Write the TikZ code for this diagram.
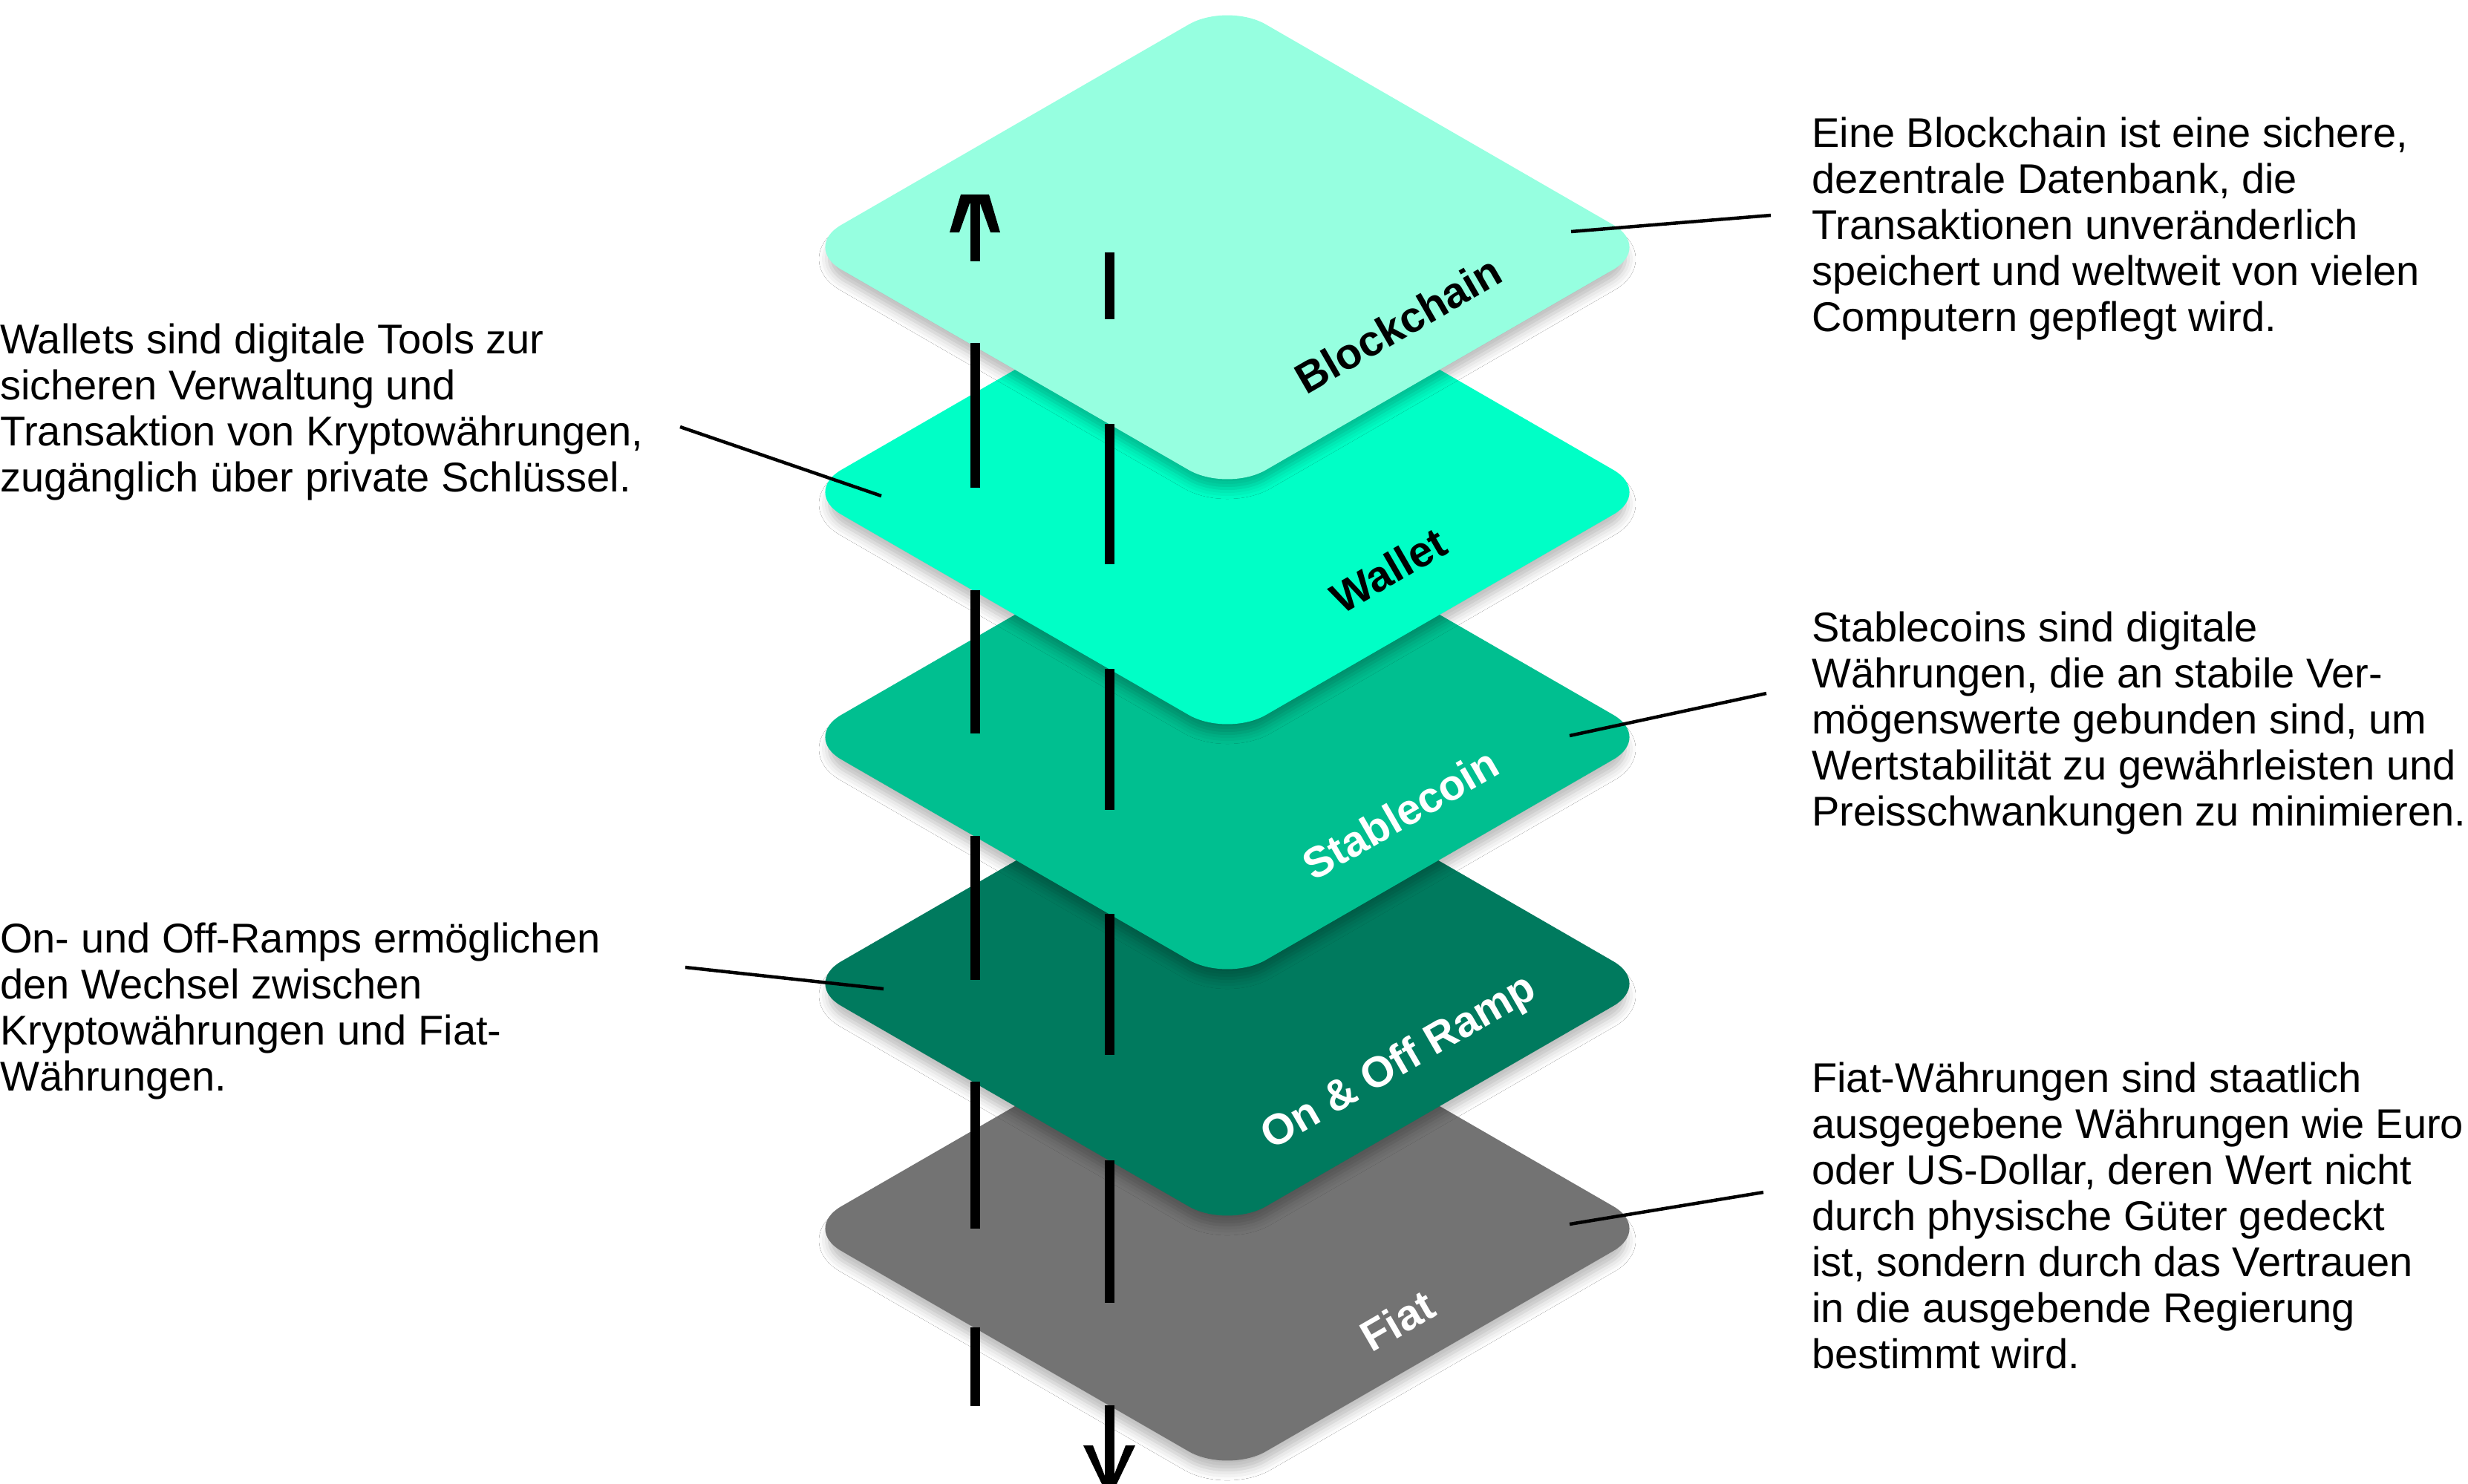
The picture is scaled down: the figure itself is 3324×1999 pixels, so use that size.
\documentclass[tikz,border=0pt]{standalone}
\usepackage{fontspec}
\setmainfont{Liberation Sans}
\usetikzlibrary{shadows.blur}
\definecolor{cBlock}{HTML}{96FFE0}
\definecolor{cWallet}{HTML}{00FFC6}
\definecolor{cStable}{HTML}{00BF90}
\definecolor{cRamp}{HTML}{007A5E}
\definecolor{cFiat}{HTML}{737373}
\newcommand{\layerat}[2]{%
  \path[layer,fill=#2] (1081,-#1) -- (1653,-#1+330) -- (2225,-#1) -- (1653,-#1-330) -- cycle;}
\begin{document}
\begin{tikzpicture}[x=1pt,y=1pt,
  layer/.style={rounded corners=60pt,
    blur shadow={shadow xshift=0pt, shadow yshift=-16pt, shadow blur radius=14pt, shadow opacity=28, shadow scale=0.99}},
  lbl/.style={font=\fontsize{58}{60}\selectfont\bfseries, rotate=30, inner sep=0pt},
  desc/.style={font=\fontsize{56}{62}\selectfont, align=left, anchor=north west, inner sep=0pt},
  leader/.style={line width=4.5pt},
  bar/.style={line width=13pt},
  head/.style={fill=black}]
\useasboundingbox (0,0) rectangle (3324,-1999);
\fill[white] (0,0) rectangle (3324,-1999);

% layers, bottom to top
\layerat{1655}{cFiat}
\layerat{1325}{cRamp}
\layerat{993}{cStable}
\layerat{663}{cWallet}
\layerat{333}{cBlock}

% layer labels
\node[lbl, text=black] (lblBlock)  at (1883,-437)  {Blockchain};
\node[lbl, text=black] (lblWallet) at (1870,-768)  {Wallet};
\node[lbl, text=white] (lblStable) at (1886,-1096) {Stablecoin};
\node[lbl, text=white] (lblRamp)   at (1885,-1433) {On \& Off Ramp};
\node[lbl, text=white] (lblFiat)   at (1882,-1779) {Fiat};

% up line (left)
\fill[head] (1294,-262) -- (1332,-262) -- (1347,-313) -- (1334,-313) -- (1320,-274)
  -- (1306,-274) -- (1292,-313) -- (1279,-313) -- cycle;
\draw[bar] (1313,-268) -- (1313,-352);
\draw[bar] (1313,-462) -- (1313,-657);
\draw[bar] (1313,-795) -- (1313,-988);
\draw[bar] (1313,-1126) -- (1313,-1320);
\draw[bar] (1313,-1457) -- (1313,-1655);
\draw[bar] (1313,-1788) -- (1313,-1894);

% down line (right)
\draw[bar] (1494,-340) -- (1494,-430);
\draw[bar] (1494,-571) -- (1494,-760);
\draw[bar] (1494,-901) -- (1494,-1091);
\draw[bar] (1494,-1231) -- (1494,-1421);
\draw[bar] (1494,-1563) -- (1494,-1755);
\draw[bar] (1494,-1893) -- (1494,-1990);
\fill[head] (1484,-1999) -- (1504,-1999) -- (1529,-1947) -- (1516,-1947) -- (1500,-1988)
  -- (1488,-1988) -- (1472,-1947) -- (1459,-1947) -- cycle;

% descriptions
\node[desc] (tBlock) at (2440,-158) {Eine Blockchain ist eine sichere,\\dezentrale Datenbank, die\\Transaktionen unveränderlich\\speichert und weltweit von vielen\\Computern gepflegt wird.};
\node[desc] (tWallet) at (0,-436) {Wallets sind digitale Tools zur\\sicheren Verwaltung und\\Transaktion von Kryptowährungen,\\zugänglich über private Schlüssel.};
\node[desc] (tStable) at (2440,-824) {Stablecoins sind digitale\\Währungen, die an stabile Ver-\\mögenswerte gebunden sind, um\\Wertstabilität zu gewährleisten und\\Preisschwankungen zu minimieren.};
\node[desc] (tRamp) at (0,-1243) {On- und Off-Ramps ermöglichen\\den Wechsel zwischen\\Kryptowährungen und Fiat-\\Währungen.};
\node[desc] (tFiat) at (2440,-1431) {Fiat-Währungen sind staatlich\\ausgegebene Währungen wie Euro\\oder US-Dollar, deren Wert nicht\\durch physische Güter gedeckt\\ist, sondern durch das Vertrauen\\in die ausgebende Regierung\\bestimmt wird.};

% leader lines
\coordinate (bcA) at (2116,-312);  \coordinate (bcB) at (2385,-290);
\coordinate (waA) at (916,-575);   \coordinate (waB) at (1187,-668);
\coordinate (stA) at (2114,-991);  \coordinate (stB) at (2379,-934);
\coordinate (raA) at (923,-1303);  \coordinate (raB) at (1190,-1332);
\coordinate (fiA) at (2114,-1649); \coordinate (fiB) at (2375,-1606);
\draw[leader] (bcA) -- (bcB);
\draw[leader] (waA) -- (waB);
\draw[leader] (stA) -- (stB);
\draw[leader] (raA) -- (raB);
\draw[leader] (fiA) -- (fiB);
\end{tikzpicture}
\end{document}
